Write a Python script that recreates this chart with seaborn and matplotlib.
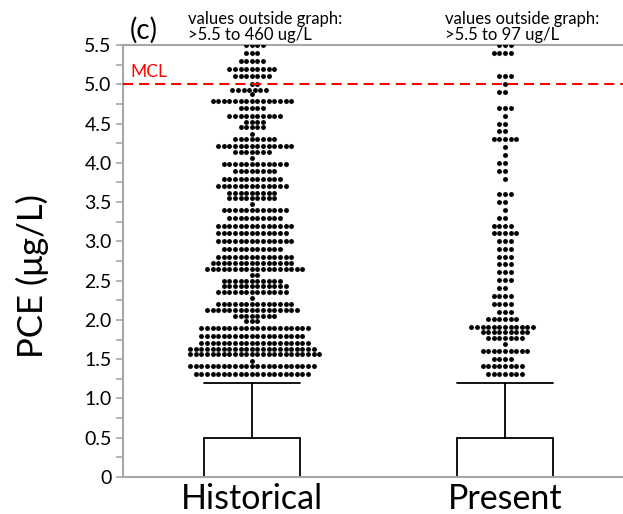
import numpy as np
import pandas as pd
import matplotlib
matplotlib.use("Agg")
import matplotlib.pyplot as plt
import seaborn as sns

# ---------------- data ----------------
categories = ["Historical", "Present"]

hist_values = [5.50, 5.40, 5.30, 5.20, 5.10, 5.00, 4.93, 4.87, 4.79, 4.70, 4.60, 4.52,
               4.45, 4.37, 4.30, 4.22, 4.14, 4.06, 3.99, 3.89, 3.80, 3.70, 3.62, 3.55,
               3.47, 3.40, 3.30, 3.20, 3.10, 3.00, 2.90, 2.80, 2.73, 2.65, 2.57, 2.50,
               2.43, 2.36, 2.28, 2.20, 2.12, 2.05, 1.98, 1.90, 1.80, 1.71, 1.63, 1.56,
               1.48, 1.41, 1.31]
hist_counts = [4, 3, 5, 9, 7, 2, 7, 1, 15, 5, 10, 4,
               5, 1, 8, 14, 7, 1, 12, 8, 11, 13, 9, 9,
               1, 12, 10, 14, 13, 14, 11, 14, 15, 18, 2, 11,
               12, 13, 1, 14, 17, 8, 3, 20, 19, 20, 23, 24,
               1, 23, 21]

pres_values = [5.50, 5.40, 5.10, 5.00, 4.90, 4.70, 4.60, 4.50, 4.40, 4.30, 4.20, 4.10,
               4.00, 3.90, 3.80, 3.60, 3.50, 3.40, 3.30, 3.20, 3.10, 3.00, 2.90, 2.80,
               2.71, 2.61, 2.51, 2.40, 2.30, 2.20, 2.10, 2.01, 1.91, 1.84, 1.77, 1.69,
               1.60, 1.50, 1.41, 1.31]
pres_counts = [3, 4, 3, 1, 2, 3, 1, 2, 2, 5, 1, 1,
               2, 2, 1, 3, 2, 1, 2, 4, 5, 3, 3, 3,
               3, 3, 3, 2, 4, 4, 3, 6, 12, 9, 7, 1,
               9, 4, 8, 7]

# box summary (box 0-0.5, whisker up to 1.2)
box_q1 = [0.0, 0.0]
box_q3 = [0.5, 0.5]
whisker_hi = [1.2, 1.2]

mcl_value = 5.0
ytick_values = [0, 0.5, 1.0, 1.5, 2.0, 2.5, 3.0, 3.5, 4.0, 4.5, 5.0, 5.5]
ytick_labels = ["0", "0.5", "1.0", "1.5", "2.0", "2.5", "3.0", "3.5", "4.0", "4.5", "5.0", "5.5"]
notes = ["values outside graph:\n>5.5 to 460 ug/L", "values outside graph:\n>5.5 to 97 ug/L"]

df = pd.DataFrame({
    "period": [categories[0]] * sum(hist_counts) + [categories[1]] * sum(pres_counts),
    "PCE": np.concatenate([np.repeat(hist_values, hist_counts), np.repeat(pres_values, pres_counts)]),
})

# ---------------- style ----------------
sns.set_style("white")
plt.rcParams["font.family"] = ["Lato", "DejaVu Sans"]
plt.rcParams["text.color"] = "black"
plt.rcParams["xtick.labelcolor"] = "black"
plt.rcParams["ytick.labelcolor"] = "black"
plt.rcParams["axes.labelcolor"] = "black"

fig = plt.figure(figsize=(6.23, 5.14), dpi=100)
ax = fig.add_axes([0.197, 0.072, 0.803, 0.8405])

sns.swarmplot(data=df, x="period", y="PCE", order=categories, color="black",
              size=3.7, linewidth=0.15, edgecolor="white", ax=ax, zorder=3)

stats = []
for c, lo, hi, wh in zip(categories, box_q1, box_q3, whisker_hi):
    stats.append(dict(label=c, med=lo, q1=lo, q3=hi, whislo=lo, whishi=wh, fliers=[]))
ax.bxp(stats, positions=[0, 1], widths=0.38, capwidths=0.38, showfliers=False,
       patch_artist=True, manage_ticks=False,
       boxprops=dict(facecolor="white", edgecolor="black", linewidth=1.3),
       whiskerprops=dict(color="black", linewidth=1.3),
       capprops=dict(color="black", linewidth=1.3),
       medianprops=dict(color="black", linewidth=1.3))

ax.axhline(mcl_value, color="#ff0000", linewidth=1.5, dashes=(4.8, 2.9), zorder=5)
ax.text(0.016, 5.16, "MCL", color="#ff0000", fontsize=12.5,
        transform=ax.get_yaxis_transform(), ha="left", va="center")

ax.set_xlim(-0.51, 1.466)
ax.set_ylim(0, 5.5)

ax.set_yticks(ytick_values)
ax.set_yticklabels(ytick_labels, fontsize=14, color="black")
ax.set_yticks(np.arange(0.25, 5.5, 0.5), minor=True)
ax.tick_params(axis="y", which="both", direction="out", length=5, width=1.2,
               color="#a6a6a6", left=True, pad=3)
ax.set_xticks([0, 1])
ax.set_xticklabels(categories, fontsize=24.5, color="black")
ax.tick_params(axis="x", length=0, pad=4)
ax.set_xlabel("")
ax.set_ylabel("PCE (\u03bcg/L)", fontsize=25, va="center", color="black")
ax.yaxis.set_label_coords(-0.18, 0.465)

for side in ["left", "bottom", "top"]:
    ax.spines[side].set_visible(True)
    ax.spines[side].set_color("#a6a6a6")
    ax.spines[side].set_linewidth(1.5)
ax.spines["right"].set_visible(False)

fig.text(0.23, 0.942, "(c)", fontsize=20, ha="center", va="center", color="black")
fig.text(0.302, 0.916, notes[0], fontsize=12, ha="left", va="bottom", linespacing=1.05, color="black")
fig.text(0.714, 0.916, notes[1], fontsize=12, ha="left", va="bottom", linespacing=1.05, color="black")

fig.savefig("out.png", dpi=100)
